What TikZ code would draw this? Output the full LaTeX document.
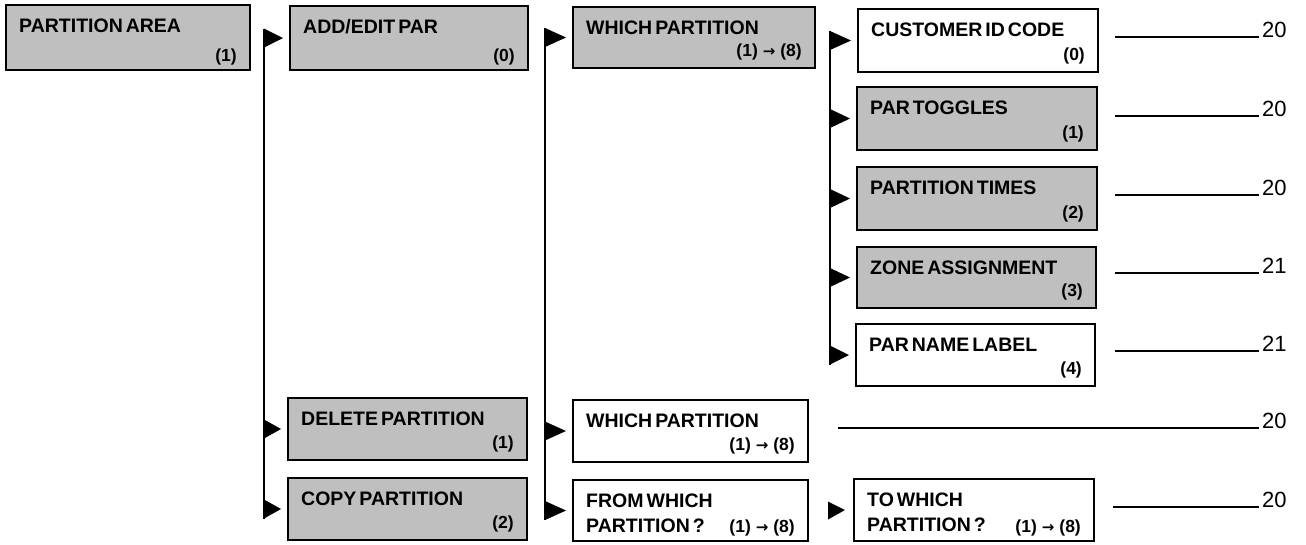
\documentclass[tikz,border=0pt]{standalone}
\usepackage{fontspec}
\setmainfont{Liberation Sans}
\newfontfamily\arrowfont{DejaVu Sans}
\usetikzlibrary{calc}
\newcommand\ttlfont{\fontsize{19.5}{21}\selectfont\bfseries\spaceskip=3pt\relax}
\tikzset{
  basebox/.style={rectangle, draw=black, line width=2.6pt, inner sep=0pt, outer sep=0pt},
  shaded/.style={basebox, fill=black!25},
  plain/.style={basebox, fill=white},
  ttl/.style={font=\ttlfont, inner sep=0pt, anchor=base west},
  nm/.style={font=\fontsize{17.5}{19}\selectfont\bfseries, inner sep=0pt, anchor=base east},
  pg/.style={font=\fontsize{22}{24}\selectfont, inner sep=0pt, anchor=base west},
  trunk/.style={line width=2pt},
  flagtip/.style={fill=black},
  rule/.style={line width=1.8pt, shorten >=3pt},
}
\newcommand\drawbox[9]{%
  \pgfmathsetmacro\bw{#5-#3}%
  \pgfmathsetmacro\bh{#6-#4}%
  \pgfmathsetmacro\bcx{(#3+#5)/2}%
  \pgfmathsetmacro\bcy{(#4+#6)/2}%
  \node[#2, minimum width=\bw pt, minimum height=\bh pt] (#1) at (\bcx,\bcy) {};
  \node[ttl] (#1-t) at ($(#1.north west)+(13,27)$) {#7};
  \node[nm] (#1-n) at ($(#1.south east)+(-13,-#9)$) {#8};
}
% flag: filled triangle from trunk coordinate #1 to box #2
\newcommand\flagto[2]{%
  \path[flagtip] ($(#1 |- #2.west)+(0,-9.5)$) -- ($(#2.west)+(-7,0)$) -- ($(#1 |- #2.west)+(0,9.5)$) -- cycle;}
\newcommand\rng{(1)\hspace{5pt}{\arrowfont\bfseries\fontsize{15}{15}\selectfont →}\hspace{5pt}(8)}
\begin{document}
\begin{tikzpicture}[x=1pt,y=-1pt]
\useasboundingbox (0,0) rectangle (1306,544);
% column 1
\drawbox{PA}{shaded}{6}{5}{250}{70}{PARTITION AREA}{(1)}{9}
% column 2
\drawbox{ADD}{shaded}{290}{6}{528}{70}{ADD/EDIT PAR}{(0)}{9}
\drawbox{DEL}{shaded}{288}{398}{527}{460}{DELETE PARTITION}{(1)}{12}
\drawbox{COPY}{shaded}{288}{478}{527}{540}{COPY PARTITION}{(2)}{12}
% column 3
\drawbox{WA}{shaded}{573}{7}{815}{68}{WHICH PARTITION}{\rng}{12}
\drawbox{WB}{plain}{573}{400}{808}{462}{WHICH PARTITION}{\rng}{12}
\drawbox{FROM}{plain}{573}{480}{808}{541}{FROM WHICH}{\rng}{9}
\node[ttl] (FROM-t2) at ($(FROM.north west)+(13,52)$) {PARTITION ?};
% column 4
\drawbox{CUST}{plain}{858}{9}{1098}{72}{CUSTOMER ID CODE}{(0)}{12}
\drawbox{TOG}{shaded}{857}{87}{1097}{150}{PAR TOGGLES}{(1)}{12}
\drawbox{TIMES}{shaded}{857}{167}{1097}{230}{PARTITION TIMES}{(2)}{12}
\drawbox{ZONE}{shaded}{857}{247}{1096}{308}{ZONE ASSIGNMENT}{(3)}{12}
\drawbox{NAME}{plain}{856}{324}{1095}{386}{PAR NAME LABEL}{(4)}{12}
\drawbox{TO}{plain}{854}{479}{1094}{541}{TO WHICH}{\rng}{9}
\node[ttl] (TO-t2) at ($(TO.north west)+(13,52)$) {PARTITION ?};
% trunks
\coordinate (t1) at (264,0);
\coordinate (t2) at (545,0);
\coordinate (t3) at (830,0);
\draw[trunk] ($(t1 |- ADD.west)+(0,-9.5)$) -- ($(t1 |- COPY.west)+(0,9.5)$);
\draw[trunk] ($(t2 |- WA.west)+(0,-9.5)$) -- ($(t2 |- FROM.west)+(0,9.5)$);
\draw[trunk] ($(t3 |- CUST.west)+(0,-9.5)$) -- ($(t3 |- NAME.west)+(0,9.5)$);
% flags
\foreach \b in {ADD,DEL,COPY} {\flagto{t1}{\b}}
\foreach \b in {WA,WB,FROM} {\flagto{t2}{\b}}
\foreach \b in {CUST,TOG,TIMES,ZONE,NAME} {\flagto{t3}{\b}}
\path[flagtip] ($(FROM.east)+(20,-9)$) -- ($(TO.west)+(-9,0)$) -- ($(FROM.east)+(20,9)$) -- cycle;
% page references
\coordinate (r1) at (1115,37);
\coordinate (r2) at (1115,116);
\coordinate (r3) at (1115,195);
\coordinate (r4) at (1115,273);
\coordinate (r5) at (1115,351);
\coordinate (r6) at (838,428);
\coordinate (r7) at (1113,507);
\node[pg] (p1) at (1262,37) {20};
\node[pg] (p2) at (1262,116) {20};
\node[pg] (p3) at (1262,195) {20};
\node[pg] (p4) at (1262,273) {21};
\node[pg] (p5) at (1262,351) {21};
\node[pg] (p6) at (1262,428) {20};
\node[pg] (p7) at (1262,507) {20};
\foreach \i in {1,...,7} \draw[rule] (r\i) -- (p\i.base west);
\end{tikzpicture}
\end{document}
